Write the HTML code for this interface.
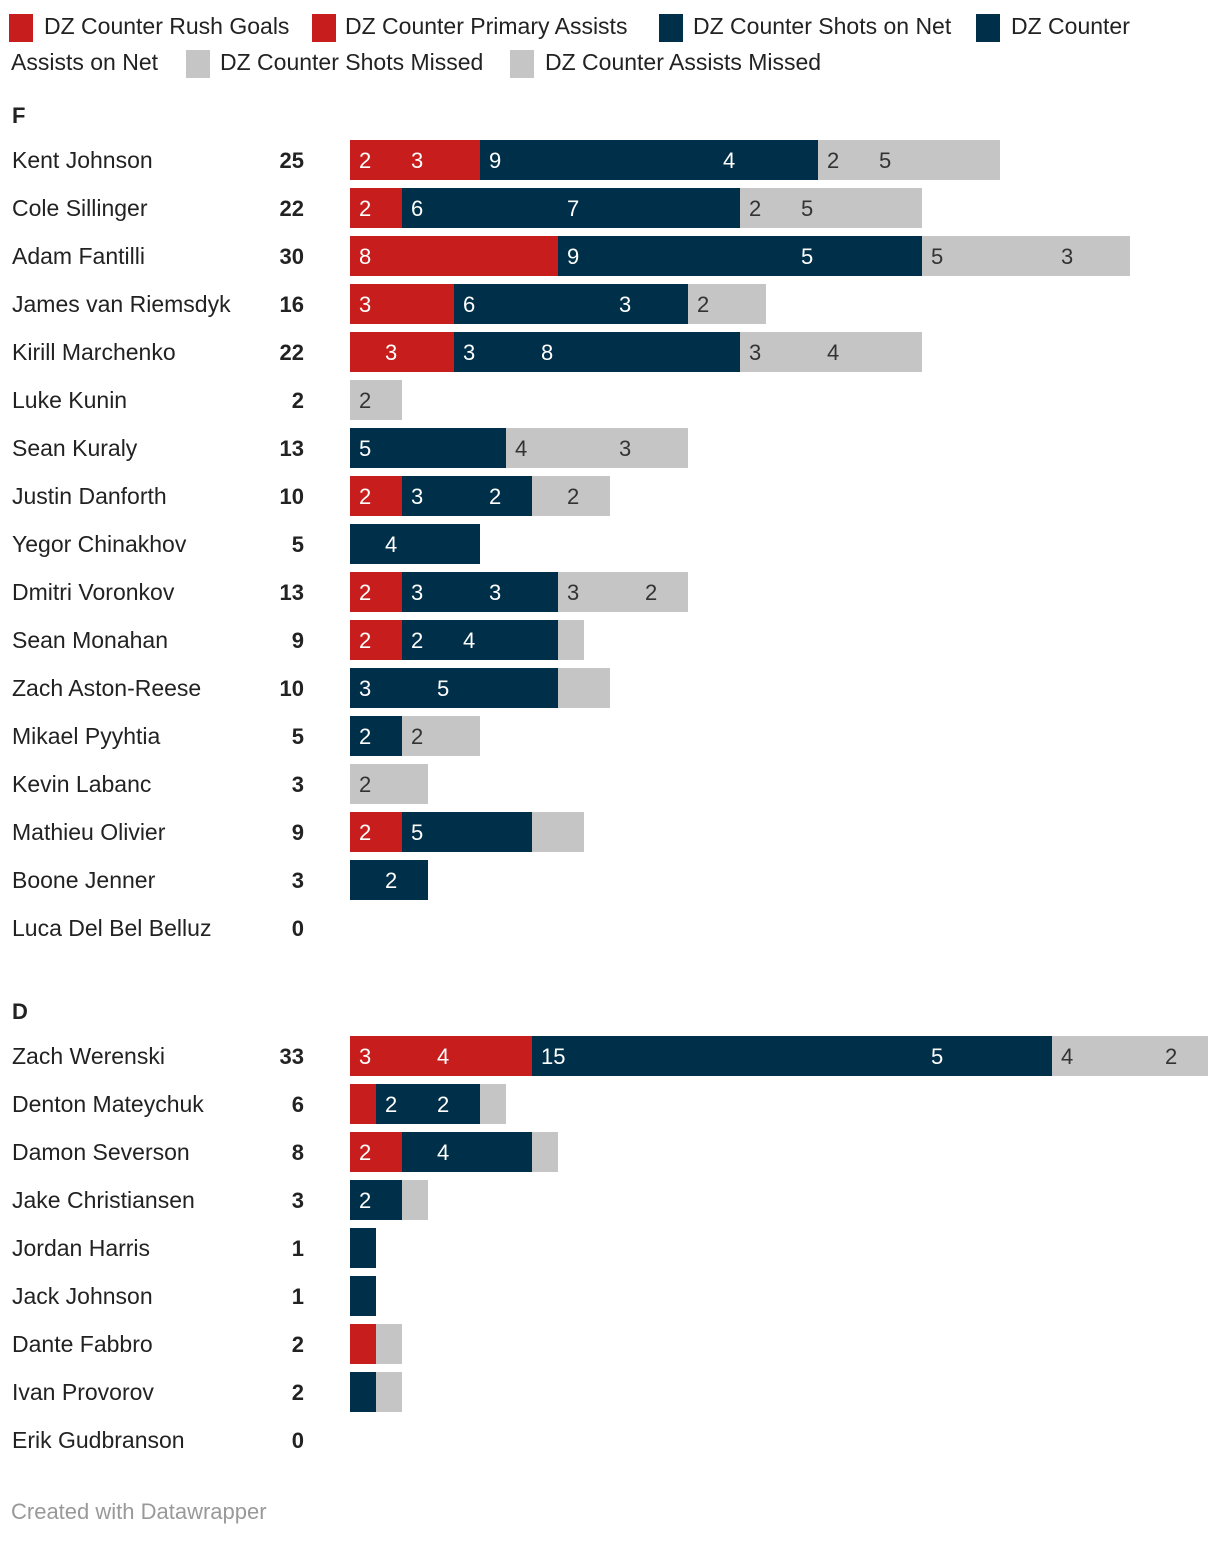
<!DOCTYPE html>
<html><head><meta charset="utf-8"><style>
body{margin:0;background:#fff;font-family:"Liberation Sans",sans-serif;}
svg text{font-family:"Liberation Sans",sans-serif;}
</style></head><body>
<svg id="c" width="1220" height="1538" xmlns="http://www.w3.org/2000/svg"></svg>
<script>
const seriesNames=["DZ Counter Rush Goals","DZ Counter Primary Assists","DZ Counter Shots on Net","DZ Counter Assists on Net","DZ Counter Shots Missed","DZ Counter Assists Missed"];
const seriesColors=["#c71e1d","#c71e1d","#003049","#003049","#c5c5c5","#c5c5c5"];
const fNames=["Kent Johnson","Cole Sillinger","Adam Fantilli","James van Riemsdyk","Kirill Marchenko","Luke Kunin","Sean Kuraly","Justin Danforth","Yegor Chinakhov","Dmitri Voronkov","Sean Monahan","Zach Aston-Reese","Mikael Pyyhtia","Kevin Labanc","Mathieu Olivier","Boone Jenner","Luca Del Bel Belluz"];
const fValues=[[2,3,9,4,2,5],[2,0,6,7,2,5],[8,0,9,5,5,3],[3,1,6,3,2,1],[1,3,3,8,3,4],[0,0,0,0,2,0],[0,0,5,1,4,3],[2,0,3,2,1,2],[0,0,1,4,0,0],[2,0,3,3,3,2],[2,0,2,4,1,0],[0,0,3,5,1,1],[0,0,2,0,2,1],[0,0,0,0,2,1],[2,0,5,0,1,1],[0,0,1,2,0,0],[0,0,0,0,0,0]];
const dNames=["Zach Werenski","Denton Mateychuk","Damon Severson","Jake Christiansen","Jordan Harris","Jack Johnson","Dante Fabbro","Ivan Provorov","Erik Gudbranson"];
const dValues=[[3,4,15,5,4,2],[1,0,2,2,1,0],[2,0,1,4,1,0],[0,0,2,0,1,0],[0,0,1,0,0,0],[0,0,1,0,0,0],[1,0,0,0,1,0],[0,0,1,0,1,0],[0,0,0,0,0,0]];

const svg=document.getElementById('c');
const NS="http://www.w3.org/2000/svg";
const x0=350, unit=26;
const xScale=v=>x0+v*unit;
function el(tag,attrs,txt){const e=document.createElementNS(NS,tag);for(const k in attrs)e.setAttribute(k,attrs[k]);if(txt!==undefined)e.textContent=txt;svg.appendChild(e);return e;}

const legendPos=[[9,24],[312,24],[659,24],[976,24],[186,60],[510,60]];
const legendText=[[44,26],[345,26],[693,26],[1011,26],[220,62],[545,62]];
seriesNames.forEach((n,i)=>{
  const r=el('rect',{x:legendPos[i][0],y:legendPos[i][1]-10,width:24,height:28,fill:seriesColors[i]});
  
  
  const label=i===3?"DZ Counter":n;
  const t=el('text',{x:legendText[i][0],y:legendText[i][1]+8,'font-size':23,fill:'#222'},label);
  
  
});
const t2=el('text',{x:11,y:70,'font-size':23,fill:'#222'},"Assists on Net");



function section(title,titleY,names,values,startY){
  const h=el('text',{x:12,y:titleY+8,'font-size':22,'font-weight':'bold',fill:'#222'},title);
  
  
  names.forEach((n,r)=>{
    const cy=startY+r*48;
    const nt=el('text',{x:12,y:cy+8,'font-size':23,fill:'#222'},n);
    
    
    const total=values[r].reduce((a,b)=>a+b,0);
    const tt=el('text',{x:304,y:cy+8,'font-size':22,'font-weight':'bold',fill:'#222','text-anchor':'end'},total);
    
    
    let acc=0;
    values[r].forEach((v,s)=>{
      if(v<=0)return;
      const rect=el('rect',{x:xScale(acc),y:cy-20,width:xScale(acc+v)-xScale(acc),height:40,fill:seriesColors[s]});
      
      
      if(v>=2){
        const lt=el('text',{x:xScale(acc)+9,y:cy+8,'font-size':22,fill:s<4?'#fff':'#333'},v);
        
        
      }
      acc+=v;
    });
  });
}
section("F",115,fNames,fValues,160);
section("D",1011,dNames,dValues,1056);
const ft=el('text',{x:11,y:1519,'font-size':22,fill:'#999'},"Created with Datawrapper");


</script>
</body></html>
